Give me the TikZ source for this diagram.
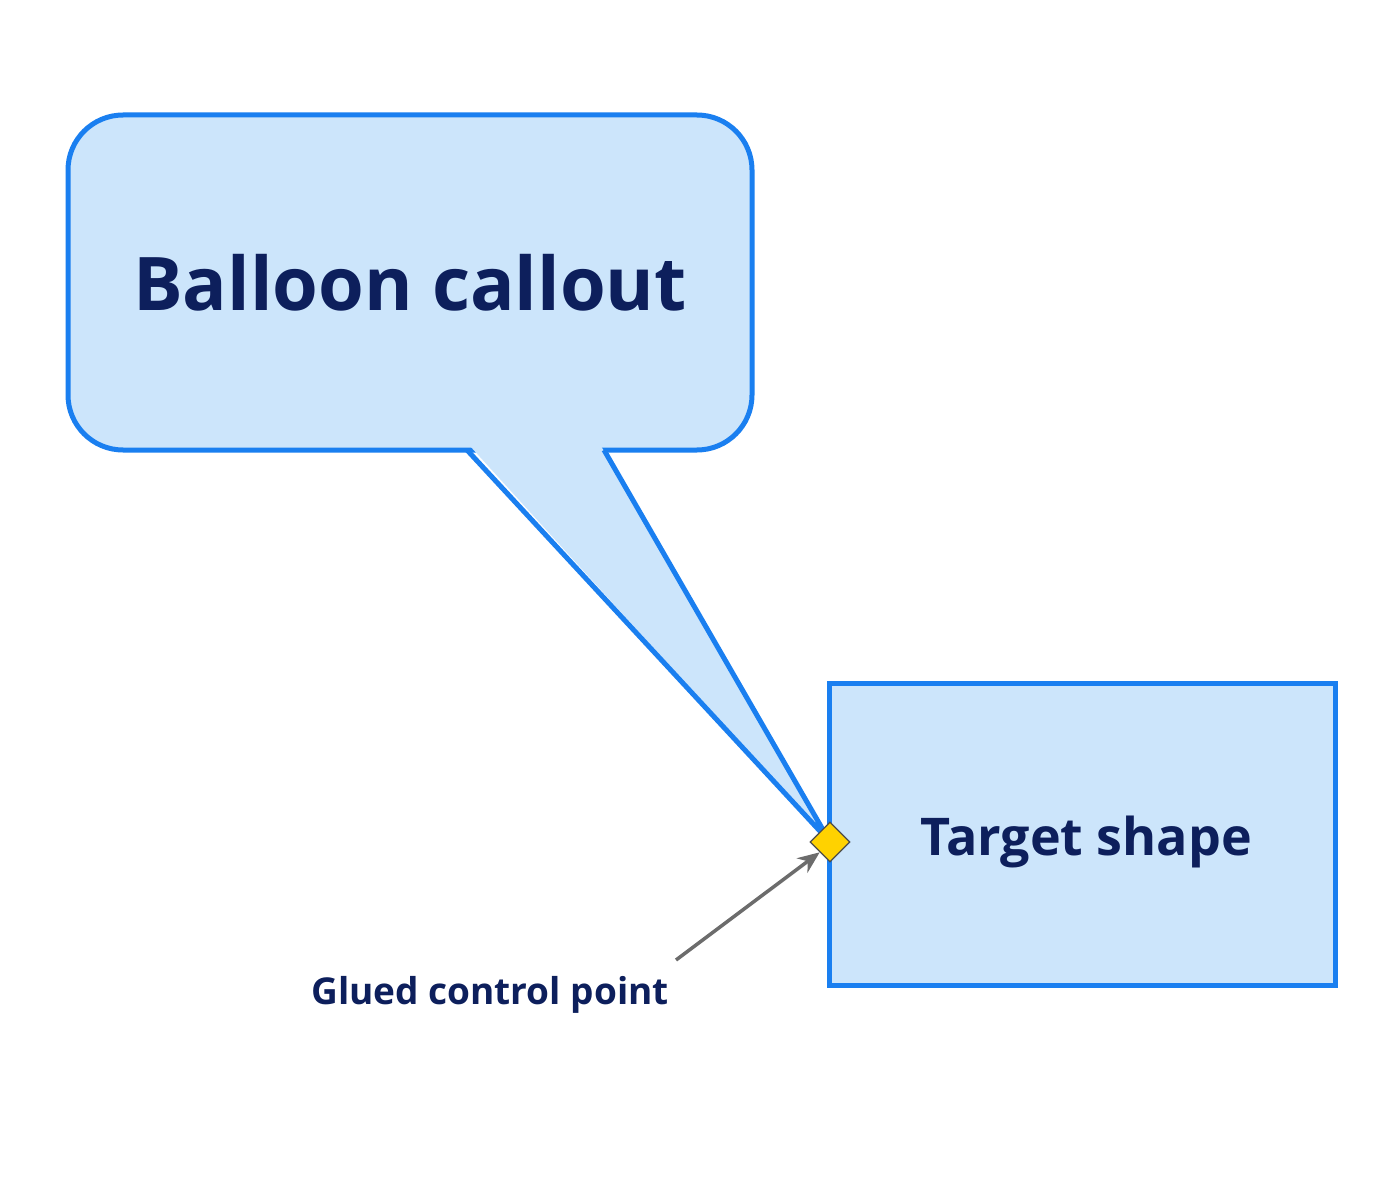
\documentclass[tikz,border=0pt]{standalone}
\usepackage{fontspec}
\setmainfont{Open Sans}
\usetikzlibrary{shapes.geometric,arrows.meta}
\definecolor{fillc}{HTML}{CCE5FB}
\definecolor{linec}{HTML}{1A7FF0}
\definecolor{txt}{HTML}{0D1F5C}
\definecolor{dia}{HTML}{FFD200}
\begin{document}
\begin{tikzpicture}[x=1pt,y=-1pt,
  box/.style={draw=linec,fill=fillc,line width=5pt,inner sep=0pt},
  t/.style={text=txt,font=\bfseries}]
\useasboundingbox (0,0) rectangle (1400,1198);
\fill[white] (0,0) rectangle (1400,1198);
\node[box,rounded corners=55pt,minimum width=684pt,minimum height=335pt] (balloon) at (410,282.5) {};
\fill[fillc] (470,446) -- (830,842) -- (601,446) -- cycle;
\coordinate (tip) at (830,842);
\draw[linec,line width=5pt,line join=miter] (467,450) -- (tip) -- (604,450);
\node[t,font=\fontsize{74}{80}\selectfont\bfseries] at (balloon.center) {Balloon callout};
\node[box,minimum width=506pt,minimum height=302pt] (target) at (1082,834) {};
\node[t,font=\fontsize{52}{60}\selectfont\bfseries] at (1086,842) {Target shape};
\node[diamond,draw=black!70,fill=dia,line width=1.2pt,minimum size=40pt,inner sep=0pt] (d) at (tip) {};
\node[t,font=\fontsize{37}{44}\selectfont\bfseries] (label) at (490,995) {Glued control point};
\coordinate (from) at (676,960);
\draw[gray!85!black,line width=3.5pt,-{Stealth[length=22pt,width=18pt]}] (from) -- (d.south west);
\end{tikzpicture}
\end{document}
